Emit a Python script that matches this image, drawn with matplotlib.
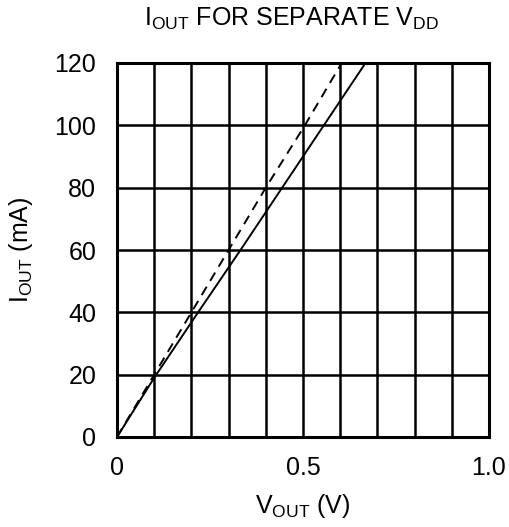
import matplotlib
matplotlib.use("Agg")
import matplotlib.pyplot as plt

plt.rcParams["font.family"] = ["Liberation Sans", "DejaVu Sans"]
plt.rcParams["mathtext.fontset"] = "custom"
plt.rcParams["mathtext.rm"] = "Liberation Sans"
plt.rcParams["mathtext.it"] = "Liberation Sans"

# I_OUT vs V_OUT
v_solid = [0.0, 0.1, 0.218, 0.332, 0.444, 0.556, 0.668]
i_solid = [0, 19, 40, 60, 80, 100, 120]
v_dash = [0.0, 0.1, 0.2, 0.3, 0.4, 0.505, 0.604]
i_dash = [0, 20, 40, 60, 80, 100, 120]

x_ticks = [0, 0.5, 1.0]
x_labels = ["0", "0.5", "1.0"]
y_ticks = [0, 20, 40, 60, 80, 100, 120]

fig = plt.figure(figsize=(5.1, 5.27), dpi=100)
ax = fig.add_axes([117 / 510, 1 - 437 / 527, 372 / 510, 374 / 527])

ax.plot(v_solid, i_solid, color="black", lw=1.4, solid_capstyle="butt")
ax.plot(v_dash, i_dash, color="black", lw=1.4, ls=(0, (5, 3.5)))

ax.set_xlim(0, 1.0)
ax.set_ylim(0, 120)
ax.set_xticks([i / 10 for i in range(11)], minor=True)
ax.set_xticks(x_ticks, x_labels)
ax.set_yticks(y_ticks)
ax.grid(True, which="both", color="black", lw=1.8)
ax.tick_params(which="both", length=0, labelsize=18)
ax.tick_params(axis="x", pad=14)
ax.tick_params(axis="y", pad=15)
for s in ax.spines.values():
    s.set_linewidth(2.2)

ax.set_xlabel(r"$\mathregular{V_{OUT}}$ (V)", fontsize=18, labelpad=8)
ax.set_ylabel(r"$\mathregular{I_{OUT}}$ (mA)", fontsize=18, labelpad=14)
fig.text(292 / 510, 1 - 26 / 527, r"$\mathregular{I_{OUT}}$ FOR SEPARATE $\mathregular{V_{DD}}$",
         ha="center", va="baseline", fontsize=18)

fig.savefig("out.png", dpi=100)
